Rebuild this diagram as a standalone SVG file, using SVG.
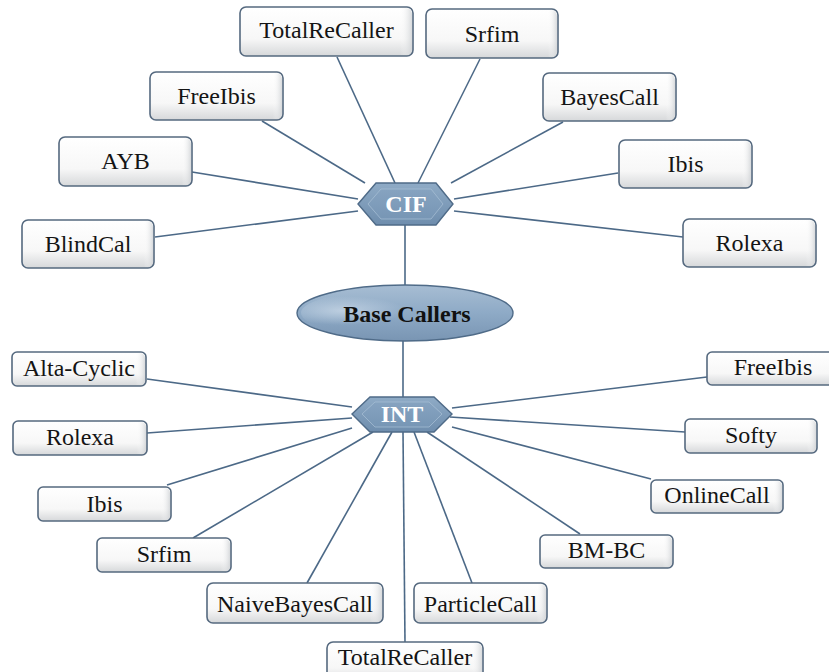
<svg xmlns="http://www.w3.org/2000/svg" width="829" height="672" viewBox="0 0 829 672">
  <defs>
    <linearGradient id="boxFill" x1="0" y1="0" x2="0" y2="1">
      <stop offset="0" stop-color="#ffffff"/>
      <stop offset="0.65" stop-color="#f7f7f7"/>
      <stop offset="1" stop-color="#d6d8da"/>
    </linearGradient>
    <linearGradient id="boxSide" x1="0" y1="0" x2="1" y2="0">
      <stop offset="0" stop-color="#ffffff" stop-opacity="0"/>
      <stop offset="0.93" stop-color="#ffffff" stop-opacity="0"/>
      <stop offset="1" stop-color="#cfd2d5" stop-opacity="0.8"/>
    </linearGradient>
    <linearGradient id="hexFill" x1="0" y1="0" x2="0" y2="1">
      <stop offset="0" stop-color="#8fabc6"/>
      <stop offset="1" stop-color="#6e8dad"/>
    </linearGradient>
    <linearGradient id="hexInner" x1="0" y1="0" x2="0" y2="1">
      <stop offset="0" stop-color="#86a3c0"/>
      <stop offset="1" stop-color="#7796b5"/>
    </linearGradient>
    <linearGradient id="ovalFill" x1="0" y1="0" x2="0" y2="1">
      <stop offset="0" stop-color="#a7bdd3"/>
      <stop offset="0.5" stop-color="#8eaac6"/>
      <stop offset="1" stop-color="#7995b3"/>
    </linearGradient>
    <radialGradient id="ovalShine" cx="0.2" cy="0.45" r="0.3">
      <stop offset="0" stop-color="#c8d7e6" stop-opacity="0.8"/>
      <stop offset="1" stop-color="#c8d7e6" stop-opacity="0"/>
    </radialGradient>
  </defs>
  <style>
    .link { stroke: #4c6987; stroke-width: 1.6; fill: none; }
    .box rect.b { fill: url(#boxFill); stroke: #55697f; stroke-width: 1.6; }
    .box rect.s { fill: url(#boxSide); stroke: none; }
    text { font-family: "Liberation Serif", "Times New Roman", "DejaVu Serif", serif; }
    .box text { font-size: 24px; fill: #141414; text-anchor: middle; }
    .hex .o { fill: url(#hexFill); stroke: #4f6b88; stroke-width: 1.4; }
    .hex .i { fill: url(#hexInner); stroke: #a9c0d6; stroke-width: 1; stroke-opacity: 0.7; }
    .hex text { font-size: 24px; font-weight: bold; fill: #ffffff; text-anchor: middle; }
    .oval text { font-size: 24px; font-weight: bold; fill: #111111; text-anchor: middle; }
  </style>

  <!-- connectors -->
  <g id="connectors">
    <line class="link" x1="405" y1="225" x2="405" y2="286"/>
    <line class="link" x1="403" y1="340" x2="403" y2="397"/>
    <!-- CIF branch -->
    <line class="link" x1="337" y1="57" x2="395" y2="183"/>
    <line class="link" x1="262" y1="121" x2="365" y2="183"/>
    <line class="link" x1="192" y1="172" x2="358" y2="199"/>
    <line class="link" x1="155" y1="237" x2="358" y2="211"/>
    <line class="link" x1="480" y1="59" x2="418" y2="183"/>
    <line class="link" x1="563" y1="122" x2="451" y2="183"/>
    <line class="link" x1="618" y1="173" x2="454" y2="199"/>
    <line class="link" x1="683" y1="237" x2="454" y2="211"/>
    <!-- INT branch -->
    <line class="link" x1="147" y1="379" x2="352" y2="407"/>
    <line class="link" x1="147" y1="433" x2="352" y2="418"/>
    <line class="link" x1="167" y1="485" x2="352" y2="428"/>
    <line class="link" x1="193" y1="538" x2="373" y2="432"/>
    <line class="link" x1="307" y1="583" x2="392" y2="432"/>
    <line class="link" x1="405" y1="642" x2="403" y2="432"/>
    <line class="link" x1="472" y1="583" x2="414" y2="432"/>
    <line class="link" x1="580" y1="534" x2="427" y2="432"/>
    <line class="link" x1="651" y1="479" x2="452" y2="427"/>
    <line class="link" x1="685" y1="432" x2="450" y2="417"/>
    <line class="link" x1="707" y1="377" x2="452" y2="408"/>
  </g>

  <!-- central node -->
  <g id="base-callers" class="oval">
    <ellipse cx="405" cy="313" rx="108" ry="28" fill="url(#ovalFill)" stroke="#4f6b88" stroke-width="1.4"/>
    <ellipse cx="405" cy="313" rx="104" ry="24" fill="url(#ovalShine)"/>
    <text x="407" y="322">Base Callers</text>
  </g>

  <!-- hub nodes -->
  <g id="cif" class="hex">
    <polygon class="o" points="358,204 376,183 436,183 453,204 436,225 376,225"/>
    <polygon class="i" points="368,204 381,189 431,189 443,204 431,219 381,219"/>
    <text x="406" y="212">CIF</text>
  </g>
  <g id="int" class="hex">
    <polygon class="o" points="352,414 370,397 434,397 452,414 434,432 370,432"/>
    <polygon class="i" points="362,414 375,402 429,402 442,414 429,427 375,427"/>
    <text x="402" y="422">INT</text>
  </g>

  <!-- CIF leaves -->
  <g id="cif-totalrecaller" class="box">
    <rect class="b" x="240" y="7" width="173" height="49" rx="6"/>
    <rect class="s" x="241" y="8" width="171" height="47" rx="6"/>
    <text x="326.5" y="38">TotalReCaller</text>
  </g>
  <g id="cif-freeibis" class="box">
    <rect class="b" x="150" y="72" width="133" height="48" rx="6"/>
    <rect class="s" x="151" y="73" width="131" height="46" rx="6"/>
    <text x="216.5" y="104">FreeIbis</text>
  </g>
  <g id="cif-ayb" class="box">
    <rect class="b" x="59" y="137" width="133" height="49" rx="6"/>
    <rect class="s" x="60" y="138" width="131" height="47" rx="6"/>
    <text x="125.5" y="169">AYB</text>
  </g>
  <g id="cif-blindcal" class="box">
    <rect class="b" x="22" y="220" width="132" height="48" rx="6"/>
    <rect class="s" x="23" y="221" width="130" height="46" rx="6"/>
    <text x="88" y="252">BlindCal</text>
  </g>
  <g id="cif-srfim" class="box">
    <rect class="b" x="426" y="9" width="132" height="49" rx="6"/>
    <rect class="s" x="427" y="10" width="130" height="47" rx="6"/>
    <text x="492" y="42">Srfim</text>
  </g>
  <g id="cif-bayescall" class="box">
    <rect class="b" x="543" y="73" width="133" height="48" rx="6"/>
    <rect class="s" x="544" y="74" width="131" height="46" rx="6"/>
    <text x="609.5" y="105">BayesCall</text>
  </g>
  <g id="cif-ibis" class="box">
    <rect class="b" x="619" y="140" width="133" height="48" rx="6"/>
    <rect class="s" x="620" y="141" width="131" height="46" rx="6"/>
    <text x="685.5" y="172">Ibis</text>
  </g>
  <g id="cif-rolexa" class="box">
    <rect class="b" x="683" y="219" width="133" height="48" rx="6"/>
    <rect class="s" x="684" y="220" width="131" height="46" rx="6"/>
    <text x="749.5" y="251">Rolexa</text>
  </g>

  <!-- INT leaves -->
  <g id="int-altacyclic" class="box">
    <rect class="b" x="12" y="352" width="134" height="34" rx="5"/>
    <rect class="s" x="13" y="353" width="132" height="32" rx="5"/>
    <text x="79" y="376">Alta-Cyclic</text>
  </g>
  <g id="int-rolexa" class="box">
    <rect class="b" x="13" y="421" width="134" height="34" rx="5"/>
    <rect class="s" x="14" y="422" width="132" height="32" rx="5"/>
    <text x="80" y="445">Rolexa</text>
  </g>
  <g id="int-ibis" class="box">
    <rect class="b" x="38" y="487" width="133" height="34" rx="5"/>
    <rect class="s" x="39" y="488" width="131" height="32" rx="5"/>
    <text x="104.5" y="512">Ibis</text>
  </g>
  <g id="int-srfim" class="box">
    <rect class="b" x="97" y="538" width="134" height="34" rx="5"/>
    <rect class="s" x="98" y="539" width="132" height="32" rx="5"/>
    <text x="164" y="562">Srfim</text>
  </g>
  <g id="int-naivebayescall" class="box">
    <rect class="b" x="207" y="583" width="176" height="40" rx="6"/>
    <rect class="s" x="208" y="584" width="174" height="38" rx="6"/>
    <text x="295" y="612">NaiveBayesCall</text>
  </g>
  <g id="int-totalrecaller" class="box">
    <rect class="b" x="327" y="642" width="156" height="40" rx="6"/>
    <rect class="s" x="328" y="643" width="154" height="38" rx="6"/>
    <text x="405" y="665">TotalReCaller</text>
  </g>
  <g id="int-particlecall" class="box">
    <rect class="b" x="414" y="583" width="133" height="40" rx="6"/>
    <rect class="s" x="415" y="584" width="131" height="38" rx="6"/>
    <text x="480.5" y="612">ParticleCall</text>
  </g>
  <g id="int-bmbc" class="box">
    <rect class="b" x="540" y="535" width="133" height="33" rx="5"/>
    <rect class="s" x="541" y="536" width="131" height="31" rx="5"/>
    <text x="606.5" y="558">BM-BC</text>
  </g>
  <g id="int-onlinecall" class="box">
    <rect class="b" x="651" y="480" width="132" height="33" rx="5"/>
    <rect class="s" x="652" y="481" width="130" height="31" rx="5"/>
    <text x="717" y="503">OnlineCall</text>
  </g>
  <g id="int-softy" class="box">
    <rect class="b" x="685" y="419" width="132" height="34" rx="5"/>
    <rect class="s" x="686" y="420" width="130" height="32" rx="5"/>
    <text x="751" y="443">Softy</text>
  </g>
  <g id="int-freeibis" class="box">
    <rect class="b" x="707" y="352" width="133" height="33" rx="5"/>
    <rect class="s" x="708" y="353" width="131" height="31" rx="5"/>
    <text x="773" y="375">FreeIbis</text>
  </g>
</svg>
